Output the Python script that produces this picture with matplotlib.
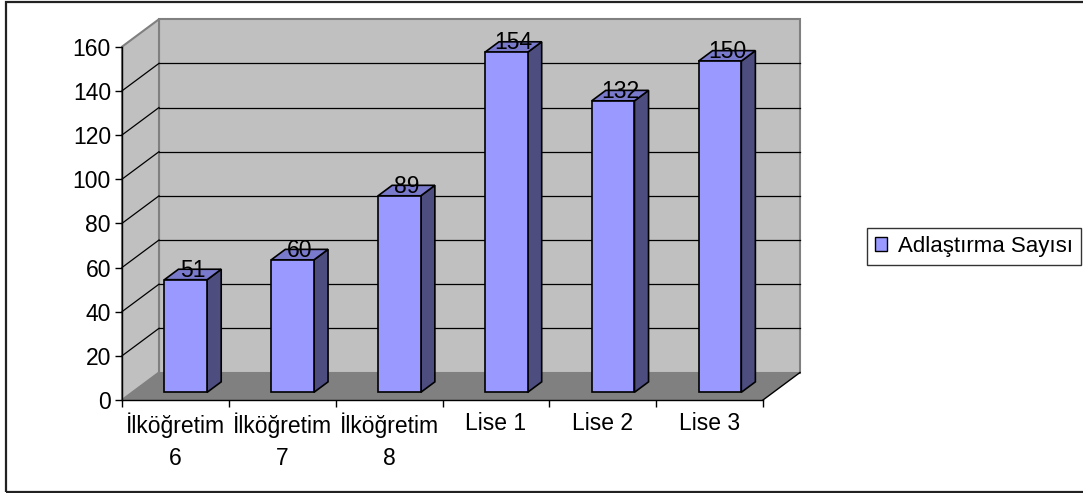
import matplotlib
matplotlib.use("Agg")
import matplotlib.pyplot as plt
from matplotlib.patches import Polygon, Rectangle, Patch

plt.rcParams['font.family'] = ['Liberation Sans', 'DejaVu Sans']

# Data
categories = ["İlköğretim\n6", "İlköğretim\n7", "İlköğretim\n8", "Lise 1", "Lise 2", "Lise 3"]
counts = [51, 60, 89, 154, 132, 150]
series_name = "Adlaştırma Sayısı"
y_ticks = [0, 20, 40, 60, 80, 100, 120, 140, 160]

# Style
FRONT = '#9999FF'
TOP = '#7A7ACC'
SIDE = '#4D4D80'
WALL = '#C0C0C0'
FLOOR = '#808080'
WALL_EDGE = '#808080'
FS = 16.5
LEG_FS = 16

W, H, DPI = 1083, 493, 100
fig = plt.figure(figsize=(W / DPI, H / DPI), dpi=DPI)
fig.patch.set_facecolor('white')

ax = fig.add_axes([122 / W, 93 / H, 641 / W, 353.3 / H])
n = len(categories)
ax.set_xlim(-0.5, n - 0.5)
ax.set_ylim(y_ticks[0], y_ticks[-1])
ax.patch.set_visible(False)

# oblique depth offset (pixels) converted to data units
DEPTH_PX = (37.0, 27.5)
x_per_px = (n) / 641.0
y_per_px = (y_ticks[-1] - y_ticks[0]) / 353.3
ddx = DEPTH_PX[0] * x_per_px
ddy = DEPTH_PX[1] * y_per_px


def proj(x, y, d):
    return (x + d * ddx, y + d * ddy)


def poly(pts, **kw):
    p = Polygon([proj(*p) for p in pts], closed=True, clip_on=False, **kw)
    ax.add_patch(p)
    return p


x0, x1 = -0.5, n - 0.5
ymin, ymax = y_ticks[0], y_ticks[-1]

# Walls and floor
poly([(x0, ymin, 1), (x1, ymin, 1), (x1, ymax, 1), (x0, ymax, 1)],
     facecolor=WALL, edgecolor=WALL_EDGE, lw=1.5, zorder=1)
poly([(x0, ymin, 0), (x0, ymin, 1), (x0, ymax, 1), (x0, ymax, 0)],
     facecolor=WALL, edgecolor=WALL_EDGE, lw=1.5, zorder=1)
poly([(x0, ymin, 0), (x1, ymin, 0), (x1, ymin, 1), (x0, ymin, 1)],
     facecolor=FLOOR, edgecolor='none', zorder=2)
# right floor edge
ax.plot(*zip(proj(x1, ymin, 0), proj(x1, ymin, 1)), color='black', lw=1.0,
        clip_on=False, zorder=3)

# Gridlines on back and side walls
for v in y_ticks[1:-1]:
    ax.plot(*zip(proj(x0, v, 1), proj(x1, v, 1)), color='black', lw=0.9,
            clip_on=False, zorder=2)
    ax.plot(*zip(proj(x0, v, 0), proj(x0, v, 1)), color='black', lw=0.9,
            clip_on=False, zorder=2)

# Bars
bw = 0.40
d0, d1 = 0.28, 0.66
for i, v in enumerate(counts):
    l, r = i - bw / 2, i + bw / 2
    poly([(r, 0, d0), (r, 0, d1), (r, v, d1), (r, v, d0)],
         facecolor=SIDE, edgecolor='black', lw=1.2, zorder=5)
    poly([(l, v, d0), (r, v, d0), (r, v, d1), (l, v, d1)],
         facecolor=TOP, edgecolor='black', lw=1.2, zorder=5)
    poly([(l, 0, d0), (r, 0, d0), (r, v, d0), (l, v, d0)],
         facecolor=FRONT, edgecolor='black', lw=1.2, zorder=6)
    tx, _ = proj(i, v, 0.47)
    _, ty = proj(i, v, d0)
    ax.text(tx, ty + 3 * y_per_px, str(v), ha='center', va='baseline',
            fontsize=FS, color='black', zorder=8, clip_on=False)

# Axes
for s in ['top', 'right']:
    ax.spines[s].set_visible(False)
for s in ['left', 'bottom']:
    ax.spines[s].set_color('black')
    ax.spines[s].set_linewidth(1.0)
    ax.spines[s].set_zorder(7)
ax.set_yticks(y_ticks)
ax.set_yticklabels([str(t) for t in y_ticks])
ax.set_xticks([k - 0.5 for k in range(n + 1)])
ax.set_xticklabels([])
ax.set_xticks(range(n), minor=True)
ax.set_xticklabels(categories, minor=True, linespacing=1.5)
ax.tick_params(axis='both', which='major', length=5, width=1.0, color='black',
               labelsize=FS, pad=3)
ax.tick_params(axis='x', which='minor', length=0, labelsize=FS, pad=9)

# Legend
leg = fig.legend(handles=[Patch(facecolor=FRONT, edgecolor='black', lw=1.0)],
                 labels=[series_name], loc='center left',
                 bbox_to_anchor=(867 / W, 1 - 246.5 / H), borderaxespad=0,
                 fontsize=LEG_FS, frameon=True, fancybox=False, shadow=False,
                 handlelength=0.55, handleheight=0.55, handletextpad=0.5,
                 borderpad=0.35)
leg.get_frame().set_edgecolor('black')
leg.get_frame().set_linewidth(1.0)

# Outer frame
fig.patches.append(Rectangle((6 / W, 1 / H), 1.5, 490.5 / H, transform=fig.transFigure,
                             fill=False, edgecolor='#222222', lw=1.6))

fig.savefig('out.png', dpi=DPI, facecolor='white')
